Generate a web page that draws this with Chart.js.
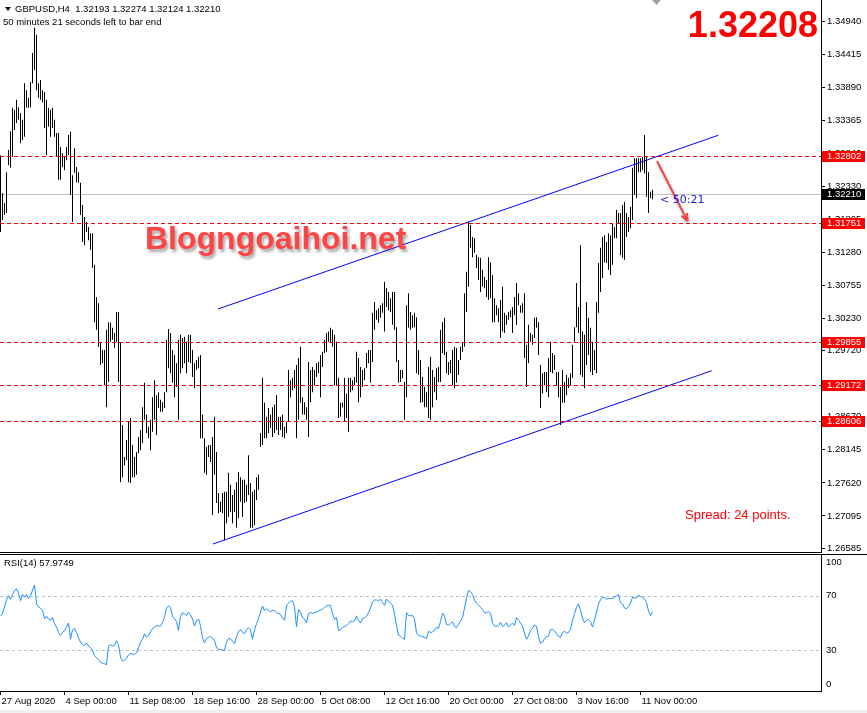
<!DOCTYPE html>
<html>
<head>
<meta charset="utf-8">
<title>GBPUSD H4</title>
<script src="https://cdn.jsdelivr.net/npm/chart.js@4.4.1/dist/chart.umd.min.js"></script>
<style>
	html, body { margin: 0; padding: 0; background: #fff; }
	.wrap { position: relative; width: 867px; height: 713px; overflow: hidden; background: #fff; }
	#priceChart { position: absolute; left: 0; top: 0; }
	#rsiChart { position: absolute; left: 0; top: 553px; }
	.strip { position: absolute; left: 0; top: 710px; width: 867px; height: 3px; background: #f0f0f0; }
</style>
</head>
<body>
<div class="wrap">
	<canvas id="priceChart" width="867" height="553"></canvas>
	<canvas id="rsiChart" width="867" height="160"></canvas>
	<div class="strip"></div>
</div>
<script>
// H4 bars, high / low (one value per bar)
const highs = [
	1.3282,1.3222,1.3206,1.3255,1.3290,1.3320,1.3357,1.3354,1.3370,1.3358,
	1.3349,1.3338,1.3396,1.3385,1.3373,1.3398,1.3444,1.3484,1.3473,1.3396,
	1.3401,1.3385,1.3382,1.3370,1.3357,1.3354,1.3357,1.3338,1.3317,1.3317,
	1.3295,1.3285,1.3279,1.3295,1.3314,1.3319,1.3250,1.3293,1.3263,1.3255,
	1.3238,1.3203,1.3184,1.3176,1.3168,1.3158,1.3158,1.3108,1.3057,1.3047,
	1.2984,1.2973,1.2973,1.3005,1.3017,1.3016,1.3008,1.3000,1.3033,1.3033,
	1.2984,1.2854,1.2803,1.2830,1.2859,1.2865,
	1.2822,1.2803,1.2811,1.2835,1.2846,1.2882,1.2921,1.2870,1.2851,1.2862,
	1.2898,1.2925,1.2901,1.2906,1.2894,1.2890,1.2906,1.2989,1.3006,1.3000,
	1.2973,1.2965,1.2952,1.2989,1.2997,1.2992,1.2994,1.2986,1.2997,1.2997,
	1.2973,1.2952,1.2957,1.2962,1.2965,1.2870,1.2833,1.2819,1.2822,1.2822,
	1.2835,1.2867,1.2811,1.2746,1.2732,1.2746,1.2748,1.2748,1.2778,1.2759,
	1.2743,1.2751,1.2763,1.2779,1.2771,1.2767,1.2767,1.2759,1.2806,1.2762,
	1.2748,1.2751,1.2771,1.2775,1.2841,1.2929,
	1.2889,1.2867,1.2881,1.2870,1.2882,1.2886,1.2901,1.2867,1.2867,1.2870,
	1.2851,1.2859,1.2941,1.2925,1.2929,1.2941,1.2949,1.2960,1.2978,1.2898,
	1.2890,1.2882,1.2954,1.2941,1.2946,1.2941,1.2952,1.2954,1.2965,1.2970,
	1.2989,1.3000,1.3002,1.3008,1.3005,1.2997,1.2986,1.2929,1.2889,1.2889,
	1.2929,1.2904,1.2929,1.2929,1.2925,1.2930,1.2970,1.2960,1.2946,1.2941,
	1.2944,1.2968,1.2973,1.2973,1.3032,1.3049,1.3036,1.3039,1.3044,1.3047,
	1.3081,1.3071,1.3065,1.3055,1.3065,1.3065,
	1.3009,1.2957,1.2941,1.2941,1.2922,1.3044,1.3063,1.3033,1.3028,1.3032,
	1.3025,1.2973,1.2957,1.2930,1.2914,1.2906,1.2946,1.2962,1.2941,1.2930,
	1.2944,1.2946,1.3005,1.3017,1.3024,1.2970,1.2954,1.2957,1.2973,1.2978,
	1.2976,1.2957,1.2978,1.2984,1.3063,1.3097,1.3176,1.3171,1.3152,1.3150,
	1.3124,1.3120,1.3119,1.3100,1.3089,1.3084,1.3120,1.3112,1.3092,1.3055,
	1.3044,1.3039,1.3052,1.3073,1.3032,1.3028,1.3033,1.3036,1.3041,1.3057,
	1.3079,1.3063,1.3044,1.3047,1.3063,1.2981,
	1.3013,1.3000,1.2997,1.3024,1.3025,1.3017,1.2949,1.2936,1.2938,1.2938,
	1.2960,1.2986,1.2968,1.2965,1.2938,1.2938,1.2914,1.2941,1.2922,1.2933,
	1.2929,1.2936,1.2981,1.3009,1.3079,1.3041,1.3139,1.3002,1.2997,1.3049,
	1.3024,1.3008,1.2986,1.2973,1.3049,1.3111,1.3135,1.3152,1.3155,1.3144,
	1.3158,1.3155,1.3174,1.3168,1.3195,1.3190,1.3190,1.3203,1.3208,1.3190,
	1.3184,1.3200,1.3262,1.3277,1.3277,1.3277,1.3277,1.3279,1.3314,1.3279,
	1.3255,1.3224,1.3227
];
const lows = [
	1.3160,1.3179,1.3187,1.3190,1.3266,1.3262,1.3279,1.3322,1.3333,1.3338,
	1.3301,1.3306,1.3311,1.3357,1.3357,1.3358,1.3396,1.3417,1.3385,1.3373,
	1.3370,1.3366,1.3325,1.3282,1.3327,1.3311,1.3325,1.3311,1.3279,1.3243,
	1.3243,1.3263,1.3258,1.3274,1.3282,1.3219,1.3176,1.3254,1.3239,1.3238,
	1.3187,1.3144,1.3139,1.3160,1.3147,1.3132,1.3103,1.3017,1.3005,1.2978,
	1.2949,1.2952,1.2917,1.2882,1.2922,1.2986,1.2989,1.2976,1.2986,1.2922,
	1.2763,1.2771,1.2790,1.2798,1.2763,1.2762,
	1.2771,1.2771,1.2775,1.2809,1.2814,1.2825,1.2862,1.2841,1.2833,1.2814,
	1.2843,1.2862,1.2838,1.2881,1.2875,1.2875,1.2881,1.2906,1.2944,1.2936,
	1.2921,1.2898,1.2914,1.2862,1.2936,1.2944,1.2952,1.2936,1.2954,1.2952,
	1.2930,1.2912,1.2941,1.2944,1.2833,1.2833,1.2778,1.2775,1.2803,1.2795,
	1.2711,1.2775,1.2730,1.2714,1.2716,1.2714,1.2671,1.2698,1.2708,1.2716,
	1.2698,1.2716,1.2691,1.2706,1.2732,1.2708,1.2730,1.2732,1.2743,1.2691,
	1.2691,1.2695,1.2735,1.2751,1.2819,1.2822,
	1.2833,1.2833,1.2841,1.2849,1.2835,1.2841,1.2846,1.2838,1.2846,1.2835,
	1.2833,1.2841,1.2859,1.2898,1.2909,1.2912,1.2833,1.2862,1.2889,1.2870,
	1.2870,1.2862,1.2835,1.2890,1.2906,1.2917,1.2930,1.2936,1.2898,1.2946,
	1.2968,1.2970,1.2986,1.2984,1.2978,1.2917,1.2917,1.2865,1.2867,1.2882,
	1.2859,1.2865,1.2843,1.2906,1.2909,1.2917,1.2921,1.2890,1.2898,1.2914,
	1.2925,1.2944,1.2952,1.2921,1.2954,1.3005,1.3021,1.3016,1.3024,1.3032,
	1.3002,1.3041,1.3036,1.3033,1.3013,1.3005,
	1.2954,1.2921,1.2922,1.2928,1.2862,1.2898,1.3008,1.3005,1.3008,1.3009,
	1.2936,1.2933,1.2889,1.2890,1.2882,1.2882,1.2865,1.2862,1.2882,1.2906,
	1.2894,1.2922,1.2922,1.2968,1.2965,1.2936,1.2933,1.2936,1.2917,1.2912,
	1.2921,1.2933,1.2957,1.2970,1.2978,1.3033,1.3073,1.3135,1.3120,1.3127,
	1.3103,1.3084,1.3065,1.3073,1.3071,1.3057,1.3052,1.3055,1.3017,1.3017,
	1.3028,1.3017,1.2992,1.3002,1.3000,1.3013,1.3021,1.3025,1.3000,1.3028,
	1.3013,1.3044,1.3032,1.3032,1.2960,1.2914,
	1.2952,1.2986,1.2981,1.2992,1.3008,1.2965,1.2881,1.2904,1.2917,1.2906,
	1.2898,1.2938,1.2936,1.2941,1.2917,1.2898,1.2854,1.2889,1.2889,1.2901,
	1.2912,1.2917,1.2929,1.2986,1.3009,1.3000,1.2933,1.2930,1.2912,1.2949,
	1.2965,1.2938,1.2933,1.2941,1.2936,1.3032,1.3065,1.3087,1.3112,1.3111,
	1.3100,1.3092,1.3108,1.3150,1.3150,1.3174,1.3123,1.3119,1.3116,1.3152,
	1.3160,1.3166,1.3179,1.3219,1.3214,1.3255,1.3255,1.3258,1.3253,1.3216,
	1.3190,1.3214,1.3212
];

// RSI(14), one value per bar
const rsiValues = [
	55,57,62,67,70,67.5,71,74,75,72,
	66.3,71,69,71,68,70,74,78,64,62,
	60.5,59.5,53,55,53,52,54,49.5,47,43,
	41,43,44.5,47,50,38,45,46,43,39,
	36,34,33.5,35.4,33,32,30,26,24.5,23,
	21,20.5,20,19.4,33,34,33,33.4,37,34,
	25,22,22.5,24.3,26.5,27.5,27,27,28,32,
	36,38,42,39.5,41,43.5,46,47,48,48,
	47.7,50.5,54,61,62.5,61.4,55,53,51,44.5,
	55,57.5,57,55.5,58,56,53,47.7,51.5,53,
	48,39,35.4,38.5,39.5,39.9,39,37,32,30.8,
	30.5,30.2,30,36,38.5,38.5,36.5,35,40,43.5,
	45.3,43,42,45.3,46.5,45,38,45,49.5,53.5,
	58,62.5,59,60.5,59.5,58,59.5,59,57.6,57,
	56.4,53.5,52,62.6,64.5,66,66.3,62,47.3,60,
	58,54,53,50,57,57.7,57.2,57.5,58,58.8,
	59.5,60.3,61.5,62.6,63,63.1,57,52.7,54,44.5,
	45,46.6,47.5,48,49.5,51.5,51,51.5,55,52,
	50,53.2,53.8,55,57.5,61,65.5,67,67,66.3,
	67.5,65,63,67.5,66,64.5,63,57,48,41,
	40.4,39,37.9,57.6,55.5,55.3,55.5,53,42.8,41,
	40.3,40,39.5,38.5,44,42.8,43.5,44.5,47,46,
	51,57.2,55.2,49,48.5,49.5,51,47.5,46.5,49,
	51.5,54,61,68.5,74,73,71,67,64.5,63.3,
	61.5,60,57.5,57.5,58.5,57.2,50,48,47.5,48,
	50.5,47.5,48.5,50.3,47,48.5,50,48.2,54,52,
	50,48,42.5,38,40.5,44.5,46,48.5,47.5,40,
	35,36,38.5,39.9,40.3,45,45.5,44.1,42,40,
	39.5,43,44.1,42.5,43,45.3,52,57,61.5,64,
	59.5,53.5,50.3,52,52.5,51,47,52,58,64,
	67,69,68.5,67.5,68,68,68,69,70,71,
	65,64,61,60.5,62,64.6,69,68.5,68.5,70.5,
	69.5,68.5,67.7,65,59,55.5,57.97
];

const priceTicks = [1.34940, 1.34415, 1.33890, 1.33365, 1.32840, 1.32330, 1.31805, 1.31280,
	1.30755, 1.30230, 1.29720, 1.29195, 1.28670, 1.28145, 1.27620, 1.27095, 1.26585];
const levels = [1.32802, 1.31751, 1.29855, 1.29172, 1.28606];
const bidPrice = 1.32210;
const timeLabels = ['27 Aug 2020', '4 Sep 00:00', '11 Sep 08:00', '18 Sep 16:00', '28 Sep 00:00',
	'5 Oct 08:00', '12 Oct 16:00', '20 Oct 00:00', '27 Oct 08:00', '3 Nov 16:00', '11 Nov 00:00'];
const timeTickBars = [0, 32, 64, 96, 128, 160, 192, 224, 256, 288, 320];
const rsiTicks = [0, 30, 70, 100];
const rsiLevels = [70, 30];

// channel lines and the arrow, in bar index / price
const upperChannel = [{ x: 108.75, y: 1.30379 }, { x: 358.9, y: 1.33135 }];
const lowerChannel = [{ x: 106.25, y: 1.26651 }, { x: 355.6, y: 1.29400 }];
const arrowPoints = [{ x: 328.25, y: 1.32727 }, { x: 343.5, y: 1.31775 }];

const xMin = -0.25, xMax = 410.25;
const priceMin = 1.26508, priceMax = 1.35281;
const axisWidth = 46;
const uiFont = "'Liberation Sans', Arial, sans-serif";
const axisFont = '9.5px ' + uiFont;

Chart.defaults.font.family = uiFont;
Chart.defaults.font.size = 9.5;
Chart.defaults.color = '#000';

function hLine(ctx, y, x0, x1) {
	ctx.beginPath();
	ctx.moveTo(x0, y);
	ctx.lineTo(x1, y);
	ctx.stroke();
}

const mainOverlay = {
	id: 'mainOverlay',
	beforeDatasetsDraw(chart) {
		const { ctx, chartArea: a, scales: { y } } = chart;
		ctx.save();
		ctx.strokeStyle = '#c0c0c0';
		ctx.lineWidth = 1;
		hLine(ctx, Math.round(y.getPixelForValue(bidPrice)) + 0.5, a.left, a.right);
		ctx.restore();
	},
	afterDatasetsDraw(chart) {
		const { ctx, chartArea: a, scales: { x, y } } = chart;
		ctx.save();
		ctx.strokeStyle = '#ff0000';
		ctx.lineWidth = 1;
		ctx.setLineDash([4, 3]);
		levels.forEach(v => hLine(ctx, Math.round(y.getPixelForValue(v)) + 0.5, a.left, a.right));
		ctx.setLineDash([]);

		// arrow
		const x0 = x.getPixelForValue(arrowPoints[0].x), y0 = y.getPixelForValue(arrowPoints[0].y);
		const x1 = x.getPixelForValue(arrowPoints[1].x), y1 = y.getPixelForValue(arrowPoints[1].y);
		const ang = Math.atan2(y1 - y0, x1 - x0);
		ctx.shadowColor = 'rgba(0,0,0,0.3)';
		ctx.shadowBlur = 3;
		ctx.shadowOffsetX = 1;
		ctx.shadowOffsetY = 2;
		ctx.strokeStyle = '#f04848';
		ctx.lineWidth = 2;
		ctx.beginPath();
		ctx.moveTo(x0, y0);
		ctx.lineTo(x1, y1);
		ctx.moveTo(x1, y1);
		ctx.lineTo(x1 - 8 * Math.cos(ang - 0.4), y1 - 8 * Math.sin(ang - 0.4));
		ctx.moveTo(x1, y1);
		ctx.lineTo(x1 - 8 * Math.cos(ang + 0.4), y1 - 8 * Math.sin(ang + 0.4));
		ctx.stroke();
		ctx.restore();
	},
	afterDraw(chart) {
		const { ctx, chartArea: a, scales: { x, y } } = chart;
		ctx.save();

		// header
		ctx.fillStyle = '#000';
		ctx.beginPath();
		ctx.moveTo(5, 7); ctx.lineTo(11, 7); ctx.lineTo(8, 11); ctx.closePath();
		ctx.fill();
		ctx.font = axisFont;
		ctx.textBaseline = 'middle';
		ctx.textAlign = 'left';
		ctx.fillText('GBPUSD,H4  1.32193 1.32274 1.32124 1.32210', 15, 9.5);
		ctx.fillText('50 minutes 21 seconds left to bar end', 3, 22.5);

		// shift marker
		ctx.fillStyle = '#a0a0a0';
		ctx.beginPath();
		ctx.moveTo(652, 0); ctx.lineTo(661, 0); ctx.lineTo(656.5, 5); ctx.closePath();
		ctx.fill();

		// big price
		ctx.fillStyle = '#ff0000';
		ctx.font = 'bold 36px ' + uiFont;
		ctx.textAlign = 'right';
		ctx.textBaseline = 'alphabetic';
		ctx.fillText('1.32208', 818, 37);

		// watermark
		ctx.save();
		ctx.shadowColor = 'rgba(60,60,60,0.45)';
		ctx.shadowBlur = 3;
		ctx.shadowOffsetX = 2;
		ctx.shadowOffsetY = 3;
		ctx.fillStyle = '#ff4444';
		ctx.font = 'bold 32px ' + uiFont;
		ctx.textAlign = 'left';
		ctx.fillText('Blogngoaihoi.net', 145, 248.5);
		ctx.restore();

		// spread
		ctx.fillStyle = '#ff0000';
		ctx.font = '13px ' + uiFont;
		ctx.textAlign = 'left';
		ctx.textBaseline = 'middle';
		ctx.fillText('Spread: 24 points.', 685, 515);

		// bar timer
		ctx.fillStyle = '#2020e0';
		ctx.font = "11px 'DejaVu Sans', sans-serif";
		ctx.fillText('< 50:21', x.getPixelForValue(329.8), y.getPixelForValue(bidPrice) + 7);

		// axis price boxes
		ctx.font = axisFont;
		const box = (v, fill) => {
			const cy = Math.round(y.getPixelForValue(v));
			ctx.fillStyle = fill;
			ctx.fillRect(a.right + 1, cy - 5, 43, 11);
			ctx.fillStyle = '#fff';
			ctx.fillText(v.toFixed(5), a.right + 6, cy + 0.5);
		};
		levels.forEach(v => box(v, '#ff0000'));
		box(bidPrice, '#000');

		// lower panel border
		ctx.strokeStyle = '#000';
		ctx.lineWidth = 1;
		hLine(ctx, a.bottom - 0.5, 0, a.right);
		ctx.restore();
	}
};

const rsiOverlay = {
	id: 'rsiOverlay',
	beforeDatasetsDraw(chart) {
		const { ctx, chartArea: a, scales: { y } } = chart;
		ctx.save();
		ctx.strokeStyle = '#c0c0c0';
		ctx.lineWidth = 1;
		ctx.setLineDash([3, 3]);
		rsiLevels.forEach(v => hLine(ctx, Math.round(y.getPixelForValue(v)) + 0.5, a.left, a.right));
		ctx.restore();
	},
	afterDraw(chart) {
		const { ctx, chartArea: a, scales: { y } } = chart;
		ctx.save();
		ctx.fillStyle = '#000';
		ctx.font = axisFont;
		ctx.textBaseline = 'middle';
		ctx.textAlign = 'left';
		rsiTicks.forEach(v => {
			const py = Math.min(Math.max(y.getPixelForValue(v), a.top + 7), a.bottom - 7);
			ctx.fillText(String(v), a.right + 5, py);
		});
		ctx.fillText('RSI(14) 57.9749', 4, 10.5);
		ctx.strokeStyle = '#000';
		ctx.lineWidth = 1;
		hLine(ctx, 1.5, 0, chart.width);
		ctx.restore();
	}
};

const priceChart = new Chart(document.getElementById('priceChart'), {
	type: 'bar',
	data: {
		datasets: [
			{
				type: 'bar',
				data: highs.map((h, i) => ({ x: i, y: [lows[i], h] })),
				backgroundColor: '#000',
				borderWidth: 0,
				barThickness: 1,
				inflateAmount: 0,
				order: 2
			},
			{
				type: 'line',
				data: upperChannel,
				borderColor: '#0000ff',
				borderWidth: 1,
				pointRadius: 0,
				order: 1
			},
			{
				type: 'line',
				data: lowerChannel,
				borderColor: '#0000ff',
				borderWidth: 1,
				pointRadius: 0,
				order: 1
			}
		]
	},
	options: {
		responsive: false,
		animation: false,
		devicePixelRatio: 1,
		events: [],
		layout: { padding: 0 },
		plugins: { legend: { display: false }, tooltip: { enabled: false } },
		scales: {
			x: { type: 'linear', display: false, offset: false, min: xMin, max: xMax, grid: { offset: false } },
			y: {
				type: 'linear',
				position: 'right',
				min: priceMin,
				max: priceMax,
				afterBuildTicks: s => { s.ticks = priceTicks.map(v => ({ value: v })); },
				afterFit: s => { s.width = axisWidth; s.paddingTop = 0; s.paddingBottom = 0; },
				ticks: { callback: v => v.toFixed(5), autoSkip: false, padding: 2, color: '#000' },
				grid: { drawOnChartArea: false, drawTicks: true, tickLength: 4, color: '#000' },
				border: { display: true, color: '#000' }
			}
		}
	},
	plugins: [mainOverlay]
});

const rsiChart = new Chart(document.getElementById('rsiChart'), {
	type: 'line',
	data: {
		datasets: [{
			data: rsiValues.map((v, i) => ({ x: i, y: v })),
			borderColor: '#1e90ff',
			borderWidth: 1,
			pointRadius: 0,
			tension: 0
		}]
	},
	options: {
		responsive: false,
		animation: false,
		devicePixelRatio: 1,
		events: [],
		layout: { padding: { top: 2 } },
		plugins: { legend: { display: false }, tooltip: { enabled: false } },
		scales: {
			x: {
				type: 'linear',
				offset: false,
				min: xMin,
				max: xMax,
				afterBuildTicks: s => { s.ticks = timeTickBars.map(v => ({ value: v })); },
				afterFit: s => { s.height = 22; s.paddingLeft = 0; s.paddingRight = 0; },
				ticks: {
					callback: (v, i) => timeLabels[i],
					autoSkip: false,
					maxRotation: 0,
					align: 'start',
					labelOffset: 1,
					padding: 1,
					color: '#000'
				},
				grid: { drawOnChartArea: false, drawTicks: true, tickLength: 4, color: '#000' },
				border: { display: true, color: '#000' }
			},
			y: {
				type: 'linear',
				position: 'right',
				min: 0,
				max: 100,
				afterBuildTicks: s => { s.ticks = rsiTicks.map(v => ({ value: v })); },
				afterFit: s => { s.width = axisWidth; s.paddingTop = 0; s.paddingBottom = 0; },
				ticks: { display: false },
				grid: { drawOnChartArea: false, drawTicks: false },
				border: { display: true, color: '#000' }
			}
		}
	},
	plugins: [rsiOverlay]
});
</script>
</body>
</html>
